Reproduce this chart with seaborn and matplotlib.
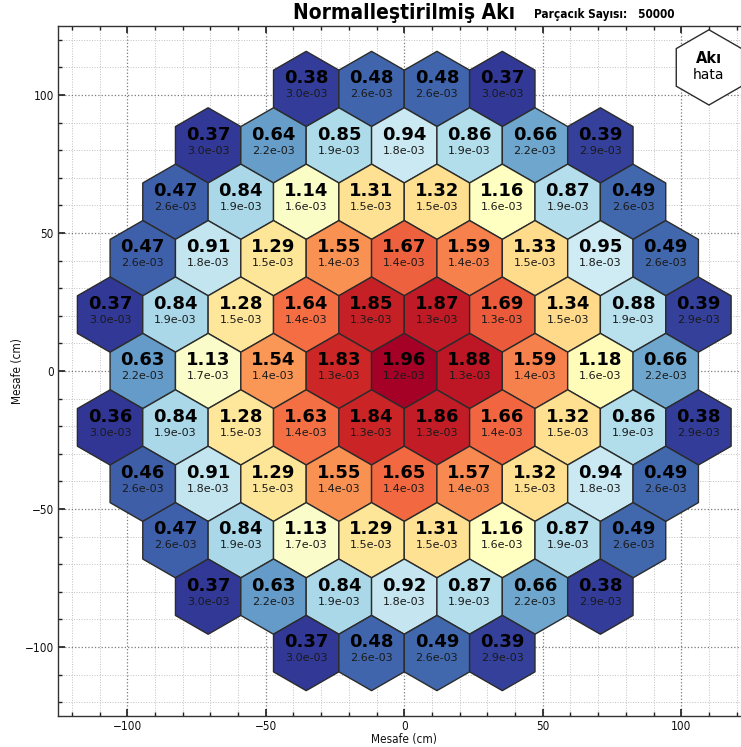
import numpy as np
import matplotlib
matplotlib.use("Agg")
import matplotlib.pyplot as plt
import seaborn as sns
from matplotlib.patches import RegularPolygon
from matplotlib.collections import PatchCollection
from matplotlib.ticker import MultipleLocator

# ---- data (rows from top to bottom) ----
row_index = [5, 4, 3, 2, 1, 0, -1, -2, -3, -4, -5]
flux_rows = [
    [0.38, 0.48, 0.48, 0.37],
    [0.37, 0.64, 0.85, 0.94, 0.86, 0.66, 0.39],
    [0.47, 0.84, 1.14, 1.31, 1.32, 1.16, 0.87, 0.49],
    [0.47, 0.91, 1.29, 1.55, 1.67, 1.59, 1.33, 0.95, 0.49],
    [0.37, 0.84, 1.28, 1.64, 1.85, 1.87, 1.69, 1.34, 0.88, 0.39],
    [0.63, 1.13, 1.54, 1.83, 1.96, 1.88, 1.59, 1.18, 0.66],
    [0.36, 0.84, 1.28, 1.63, 1.84, 1.86, 1.66, 1.32, 0.86, 0.38],
    [0.46, 0.91, 1.29, 1.55, 1.65, 1.57, 1.32, 0.94, 0.49],
    [0.47, 0.84, 1.13, 1.29, 1.31, 1.16, 0.87, 0.49],
    [0.37, 0.63, 0.84, 0.92, 0.87, 0.66, 0.38],
    [0.37, 0.48, 0.49, 0.39],
]
error_rows = [
    ["3.0e-03", "2.6e-03", "2.6e-03", "3.0e-03"],
    ["3.0e-03", "2.2e-03", "1.9e-03", "1.8e-03", "1.9e-03", "2.2e-03", "2.9e-03"],
    ["2.6e-03", "1.9e-03", "1.6e-03", "1.5e-03", "1.5e-03", "1.6e-03", "1.9e-03", "2.6e-03"],
    ["2.6e-03", "1.8e-03", "1.5e-03", "1.4e-03", "1.4e-03", "1.4e-03", "1.5e-03", "1.8e-03", "2.6e-03"],
    ["3.0e-03", "1.9e-03", "1.5e-03", "1.4e-03", "1.3e-03", "1.3e-03", "1.3e-03", "1.5e-03", "1.9e-03", "2.9e-03"],
    ["2.2e-03", "1.7e-03", "1.4e-03", "1.3e-03", "1.2e-03", "1.3e-03", "1.4e-03", "1.6e-03", "2.2e-03"],
    ["3.0e-03", "1.9e-03", "1.5e-03", "1.4e-03", "1.3e-03", "1.3e-03", "1.4e-03", "1.5e-03", "1.9e-03", "2.9e-03"],
    ["2.6e-03", "1.8e-03", "1.5e-03", "1.4e-03", "1.4e-03", "1.4e-03", "1.5e-03", "1.8e-03", "2.6e-03"],
    ["2.6e-03", "1.9e-03", "1.7e-03", "1.5e-03", "1.5e-03", "1.6e-03", "1.9e-03", "2.6e-03"],
    ["3.0e-03", "2.2e-03", "1.9e-03", "1.8e-03", "1.9e-03", "2.2e-03", "2.9e-03"],
    ["3.0e-03", "2.6e-03", "2.6e-03", "2.9e-03"],
]
pitch = 23.6          # cm, flat-to-flat
title = "Normalleştirilmiş Akı"
particle_label = "Parçacık Sayısı:   50000"
legend_main = "Akı"
legend_sub = "hata"
axis_label = "Mesafe (cm)"

# ---- style ----
sns.set_theme(style="ticks")
plt.rcParams["font.family"] = ["DejaVu Sans"]
plt.rcParams["text.color"] = "black"
plt.rcParams["axes.labelcolor"] = "#111111"
cmap = sns.color_palette("RdYlBu_r", as_cmap=True)

fig = plt.figure(figsize=(7.41, 7.47), dpi=100)
W, H = 741, 747
ax = fig.add_axes([58 / W, 31 / H, 692.5 / W, 690 / H])

R = pitch / np.sqrt(3)
dy = pitch * np.sqrt(3) / 2

xs, ys, vals, errs = [], [], [], []
for k, frow, erow in zip(row_index, flux_rows, error_rows):
    n = len(frow)
    for i, (v, e) in enumerate(zip(frow, erow)):
        xs.append((i - (n - 1) / 2) * pitch)
        ys.append(k * dy)
        vals.append(v)
        errs.append(e)

patches = [RegularPolygon((x, y), numVertices=6, radius=R, orientation=0)
           for x, y in zip(xs, ys)]
pc = PatchCollection(patches, cmap=cmap, edgecolor="#2b2b2b", linewidth=1.0, zorder=3)
pc.set_array(np.array(vals))
pc.set_clim(min(vals), max(vals))
ax.add_collection(pc)

for x, y, v, e in zip(xs, ys, vals, errs):
    ax.text(x, y + 3.9, f"{v:.2f}", ha="center", va="center", fontsize=13,
            fontweight="bold", color="black", zorder=4)
    ax.text(x, y - 1.9, e, ha="center", va="center", fontsize=8,
            color="#1a1a1a", zorder=4)

# legend hexagon
ax.add_patch(RegularPolygon((110, 110), numVertices=6, radius=R, orientation=0,
                            facecolor="white", edgecolor="#2b2b2b", linewidth=1.0, zorder=3))
ax.text(110, 113.4, legend_main, ha="center", va="center", fontsize=10.5,
        fontweight="bold", zorder=4)
ax.text(110, 107.4, legend_sub, ha="center", va="center", fontsize=10, zorder=4)

ax.set_xlim(-125, 125)
ax.set_ylim(-125, 125)
ax.xaxis.set_major_locator(MultipleLocator(50))
ax.yaxis.set_major_locator(MultipleLocator(50))
ax.xaxis.set_minor_locator(MultipleLocator(10))
ax.yaxis.set_minor_locator(MultipleLocator(10))
ax.grid(which="major", linestyle=":", color="#7a7a7a", linewidth=0.9, zorder=0)
ax.grid(which="minor", linestyle=":", color="#c0c0c0", linewidth=0.7, zorder=0)
ax.set_axisbelow(True)
ax.tick_params(which="both", direction="in", top=True, right=True,
               labelsize=8.5, colors="#222222", labelcolor="#111111", length=3, pad=3)
ax.tick_params(which="major", length=5)
for lab in ax.get_xticklabels() + ax.get_yticklabels():
    lab.set_fontstretch("condensed")
for s in ax.spines.values():
    s.set_color("#333333")
    s.set_linewidth(1.0)

ax.set_xlabel(axis_label, fontsize=8.5, labelpad=0, fontstretch="condensed")
ax.set_ylabel(axis_label, fontsize=8.5, labelpad=0.5, fontstretch="condensed")

ax.text(0.5, 1.005, title, transform=ax.transAxes, ha="center", va="bottom",
        fontsize=15, fontweight="bold", fontstretch="condensed", color="black")
ax.text(0.687, 1.007, particle_label, transform=ax.transAxes, ha="left", va="bottom",
        fontsize=8.5, fontweight="bold", fontstretch="condensed", color="black")

fig.savefig("out.png", dpi=100)
